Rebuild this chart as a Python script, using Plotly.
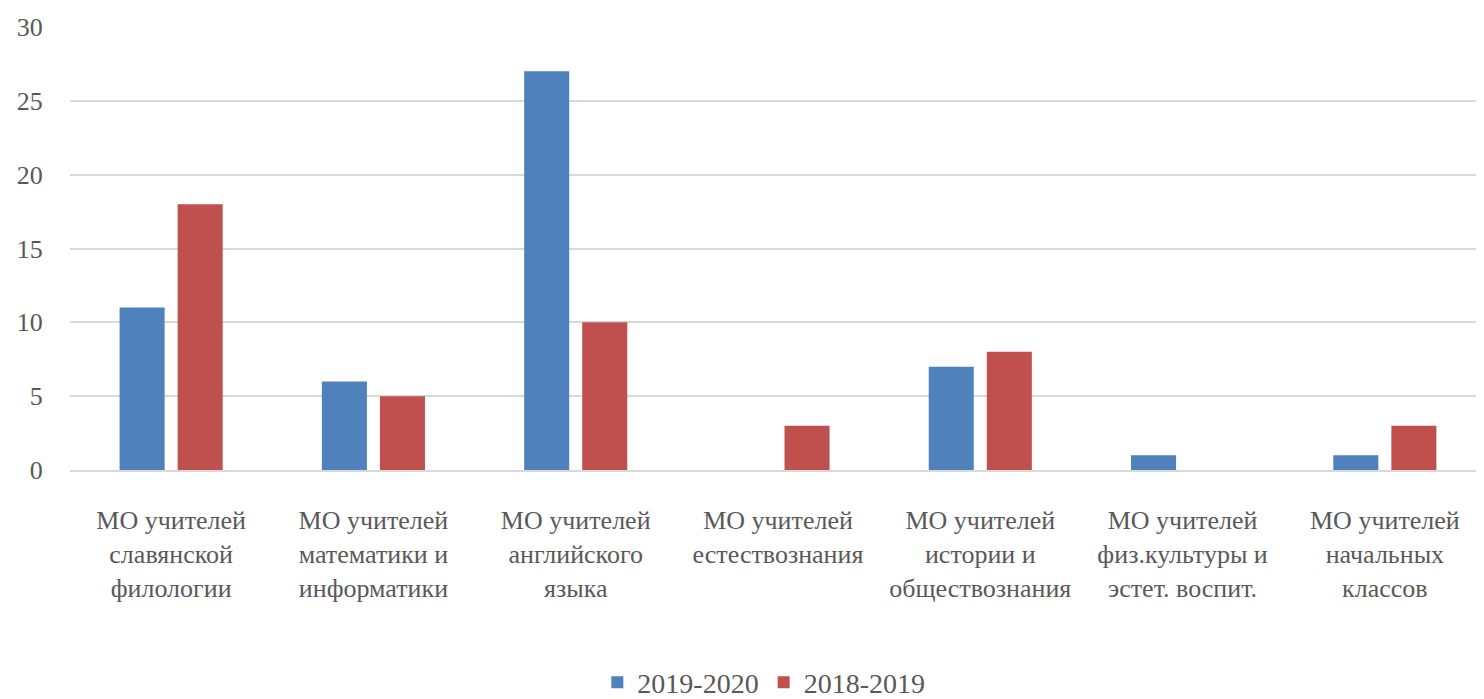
import plotly.graph_objects as go

categories = [
    "МО учителей<br>славянской<br>филологии",
    "МО учителей<br>математики и<br>информатики",
    "МО учителей<br>английского<br>языка",
    "МО учителей<br>естествознания<br> ",
    "МО учителей<br>истории и<br>обществознания",
    "МО учителей<br>физ.культуры и<br>эстет. воспит.",
    "МО учителей<br>начальных<br>классов",
]
series_2019_2020 = [11, 6, 27, 0, 7, 1, 1]
series_2018_2019 = [18, 5, 10, 3, 8, 0, 3]
y_ticks = [0, 5, 10, 15, 20, 25, 30]

FONT = "Liberation Sans Narrow"
TXT = "#595959"

fig = go.Figure()
fig.add_trace(go.Bar(name="2019-2020", x=categories, y=series_2019_2020,
                     marker=dict(color="#4F81BD", line=dict(width=0))))
fig.add_trace(go.Bar(name="2018-2019", x=categories, y=series_2018_2019,
                     marker=dict(color="#C0504D", line=dict(width=0))))

fig.update_layout(
    width=1484, height=699,
    margin=dict(l=62, r=6, t=19, b=237, autoexpand=False),
    paper_bgcolor="white", plot_bgcolor="white",
    barmode="group", bargap=0.426, bargroupgap=0.224,
    font=dict(family=FONT, size=26, color=TXT),
    legend=dict(orientation="h", x=0.49, xanchor="center", y=-0.48, yanchor="middle",
                font=dict(family=FONT, size=28, color=TXT), itemwidth=30),
    showlegend=True,
)
fig.update_xaxes(showgrid=False, showline=True, linecolor="#D9D9D9", linewidth=1.5,
                 automargin=False,
                 tickfont=dict(family=FONT, size=26, color=TXT),
                 ticks="outside", ticklen=26, tickcolor="rgba(0,0,0,0)", tickangle=0)
fig.update_yaxes(range=[0, 30], tickvals=y_ticks, showgrid=True, gridcolor="#D9D9D9",
                 gridwidth=1.5, zeroline=False, showline=False, automargin=False,
                 tickfont=dict(family=FONT, size=26, color=TXT),
                 ticks="outside", ticklen=21, tickcolor="rgba(0,0,0,0)")

fig.write_html("out.html")
